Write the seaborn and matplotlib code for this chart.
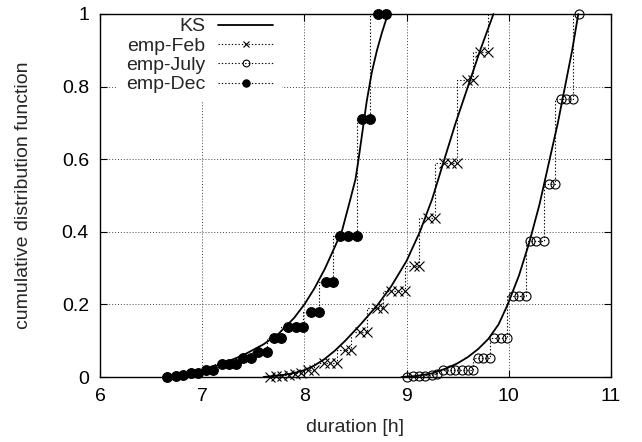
"""
Empirical sleep-duration CDFs (Feb / July / Dec) with fitted KS curves.
"""
import matplotlib
matplotlib.use("Agg")
import matplotlib.pyplot as plt
import seaborn as sns

feb_x = [7.66, 7.72, 7.78, 7.85, 7.91, 7.97, 8.04, 8.09, 8.19, 8.25, 8.32, 8.40, 8.46,
         8.54, 8.61, 8.71, 8.77, 8.85, 8.92, 8.98, 9.07, 9.12, 9.21, 9.28, 9.37, 9.43,
         9.49, 9.59, 9.65, 9.72, 9.80, 9.84]
feb_y = [0.0, 0.002, 0.004, 0.006, 0.008, 0.010, 0.019, 0.019, 0.039, 0.039, 0.039, 0.075,
         0.075, 0.125, 0.125, 0.190, 0.190, 0.238, 0.238, 0.238, 0.306, 0.306, 0.439, 0.439,
         0.590, 0.590, 0.590, 0.818, 0.818, 0.896, 0.896, 1.0]

jul_x = [9.00, 9.06, 9.12, 9.18, 9.25, 9.30, 9.36, 9.42, 9.47, 9.54, 9.60, 9.65, 9.70,
         9.75, 9.82, 9.86, 9.92, 9.98, 10.04, 10.10, 10.17, 10.21, 10.27, 10.34, 10.39,
         10.45, 10.51, 10.56, 10.63, 10.69]
jul_y = [0.0, 0.002, 0.003, 0.004, 0.006, 0.008, 0.019, 0.019, 0.019, 0.019, 0.019, 0.019,
         0.051, 0.051, 0.051, 0.108, 0.108, 0.108, 0.223, 0.223, 0.223, 0.376, 0.376, 0.376,
         0.533, 0.533, 0.766, 0.766, 0.766, 1.0]

dec_x = [6.66, 6.74, 6.81, 6.89, 6.96, 7.04, 7.11, 7.19, 7.26, 7.33, 7.40, 7.48, 7.55,
         7.63, 7.70, 7.77, 7.84, 7.92, 7.99, 8.06, 8.14, 8.21, 8.28, 8.35, 8.43, 8.51,
         8.56, 8.64, 8.72, 8.80]
dec_y = [0.0, 0.003, 0.005, 0.012, 0.012, 0.020, 0.020, 0.035, 0.035, 0.035, 0.053, 0.053,
         0.070, 0.070, 0.107, 0.107, 0.139, 0.139, 0.139, 0.180, 0.180, 0.261, 0.261, 0.388,
         0.388, 0.388, 0.711, 0.711, 1.0, 1.0]

# fitted KS curves, sampled along the drawn lines
ks_dec_x = [6.62, 6.8, 7.0, 7.2, 7.4, 7.6, 7.75, 7.9, 8.0, 8.1, 8.2, 8.3, 8.37, 8.45,
            8.5, 8.53, 8.57, 8.61, 8.66, 8.71, 8.76, 8.8, 8.82]
ks_dec_y = [0.0, 0.006, 0.018, 0.037, 0.06, 0.09, 0.12, 0.163, 0.2, 0.245, 0.298, 0.36,
            0.405, 0.49, 0.545, 0.6, 0.68, 0.76, 0.84, 0.9, 0.95, 0.985, 1.0]
ks_feb_x = [7.6, 7.8, 7.9, 8.0, 8.1, 8.2, 8.3, 8.4, 8.55, 8.72, 8.85, 9.0, 9.13, 9.25,
            9.37, 9.48, 9.6, 9.72, 9.85]
ks_feb_y = [0.0, 0.006, 0.011, 0.019, 0.032, 0.05, 0.073, 0.1, 0.145, 0.2, 0.25, 0.32,
            0.4, 0.49, 0.6, 0.7, 0.8, 0.9, 1.0]
ks_jul_x = [8.95, 9.1, 9.25, 9.4, 9.5, 9.6, 9.7, 9.8, 9.9, 9.99, 10.1, 10.2, 10.3, 10.4,
            10.48, 10.55, 10.62, 10.68]
ks_jul_y = [0.0, 0.003, 0.01, 0.025, 0.038, 0.055, 0.077, 0.105, 0.145, 0.2, 0.28, 0.37,
            0.475, 0.6, 0.7, 0.8, 0.9, 1.0]

x_ticks = [6, 7, 8, 9, 10, 11]
y_ticks = [0, 0.2, 0.4, 0.6, 0.8, 1]
y_tick_labels = ["0", "0.2", "0.4", "0.6", "0.8", "1"]


def main():
    sns.set_style("ticks")
    plt.rcParams['font.family'] = ['Liberation Sans', 'DejaVu Sans']

    fig = plt.figure(figsize=(6.42, 4.42), dpi=100)
    ax = fig.add_axes([100 / 642, 65 / 442, 511 / 642, 363 / 442])

    ks_kw = dict(color='black', lw=1.3, estimator=None, sort=False, ax=ax, clip_on=False)
    sns.lineplot(x=ks_dec_x, y=ks_dec_y, label='KS', **ks_kw)
    sns.lineplot(x=ks_feb_x, y=ks_feb_y, **ks_kw)
    sns.lineplot(x=ks_jul_x, y=ks_jul_y, **ks_kw)

    emp_kw = dict(color='black', lw=0.8, ls=(0, (1.2, 1.8)), drawstyle='steps-pre',
                  estimator=None, sort=False, ax=ax, clip_on=False)
    sns.lineplot(x=feb_x[:-1], y=feb_y[:-1], label='emp-Feb', marker='x', ms=6.5,
                 mec='black', mew=0.8, **emp_kw)
    # last step of Feb runs into the top border (no marker visible there)
    sns.lineplot(x=feb_x[-2:], y=feb_y[-2:], **emp_kw)
    sns.lineplot(x=jul_x, y=jul_y, label='emp-July', marker='o', ms=6.5,
                 mfc='none', mec='black', mew=0.8, **emp_kw)
    sns.lineplot(x=dec_x, y=dec_y, label='emp-Dec', marker='o', ms=7,
                 mfc='black', mec='black', mew=0.8, **emp_kw)

    ax.set_xlim(6, 11)
    ax.set_ylim(0, 1)
    ax.set_xticks(x_ticks)
    ax.set_xticklabels([str(t) for t in x_ticks])
    ax.set_yticks(y_ticks)
    ax.set_yticklabels(y_tick_labels)
    ax.tick_params(direction='in', length=5, width=0.8, top=True, right=True,
                   labelsize=14, pad=8, colors='black')
    for sp in ax.spines.values():
        sp.set_visible(True)
        sp.set_color('black')
        sp.set_linewidth(1.0)

    ax.set_axisbelow(True)
    ax.grid(True, color='#444444', linestyle=(0, (1, 2)), linewidth=0.7)

    ax.set_xlabel("duration [h]", fontsize=14)
    ax.set_ylabel("cumulative distribution function", fontsize=14)
    ax.xaxis.set_label_coords(0.5, -0.115)
    ax.yaxis.set_label_coords(-0.133, 0.5)

    handles, labels = ax.get_legend_handles_labels()
    leg = ax.legend(handles, labels, loc='upper right',
                    bbox_to_anchor=(282 / 642, 433 / 442), bbox_transform=fig.transFigure,
                    markerfirst=False, frameon=True, fancybox=False, framealpha=1,
                    facecolor='white', edgecolor='none', borderpad=0.45,
                    handlelength=2.83, handletextpad=0.67, labelspacing=0.09,
                    markerscale=0.75, numpoints=1, fontsize=14, borderaxespad=0)
    # white key box hides the grid but stays under the frame lines
    leg.set_zorder(2.4)

    fig.savefig("out.png", dpi=100)


if __name__ == "__main__":
    main()
